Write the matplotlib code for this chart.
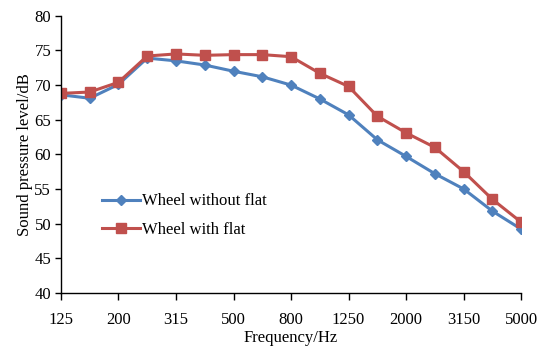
import matplotlib
matplotlib.use("Agg")
from matplotlib import pyplot as plt

# 1/3 octave band centre frequencies
freqs = ["125", "160", "200", "250", "315", "400", "500", "630", "800",
         "1000", "1250", "1600", "2000", "2500", "3150", "4000", "5000"]
without_flat = [68.6, 68.1, 70.1, 73.9, 73.5, 72.9, 72.0, 71.2, 70.0,
                68.0, 65.7, 62.1, 59.7, 57.2, 55.0, 51.8, 49.2]
with_flat = [68.8, 69.0, 70.4, 74.2, 74.5, 74.3, 74.4, 74.4, 74.1,
             71.7, 69.8, 65.5, 63.1, 61.0, 57.5, 53.5, 50.2]
yticks = [40, 45, 50, 55, 60, 65, 70, 75, 80]

plt.rcParams['font.family'] = ['Liberation Serif', 'DejaVu Serif']

fig = plt.figure(figsize=(5.39, 3.52), dpi=100)
ax = fig.add_axes([0.113, 0.168, 0.854, 0.787])

x = list(range(len(freqs)))
ax.plot(x, without_flat, color='#4F81BD', marker='D', markersize=5.5,
        linewidth=2.2, label='Wheel without flat')
ax.plot(x, with_flat, color='#C0504D', marker='s', markersize=6.5,
        linewidth=2.2, label='Wheel with flat')

ax.set_xlim(0, len(freqs) - 1)
ax.set_ylim(40, 80)
ax.set_xticks(x[::2])
ax.set_xticklabels(freqs[::2], fontsize=12)
ax.set_yticks(yticks)
ax.set_yticklabels([str(v) for v in yticks], fontsize=12)
ax.tick_params(axis='x', length=5, width=1, pad=9)
ax.tick_params(axis='y', length=4, width=1, pad=3)

ax.spines['top'].set_visible(False)
ax.spines['right'].set_visible(False)
ax.spines['left'].set_linewidth(1)
ax.spines['bottom'].set_linewidth(1)

ax.set_xlabel('Frequency/Hz', fontsize=12, labelpad=1)
ax.set_ylabel('Sound pressure level/dB', fontsize=12, labelpad=1)

ax.legend(loc='upper left', bbox_to_anchor=(0.056, 0.413), frameon=False,
          fontsize=12, handlelength=2.3, handletextpad=0.12, labelspacing=0.74)

fig.savefig('out.png', dpi=100)
